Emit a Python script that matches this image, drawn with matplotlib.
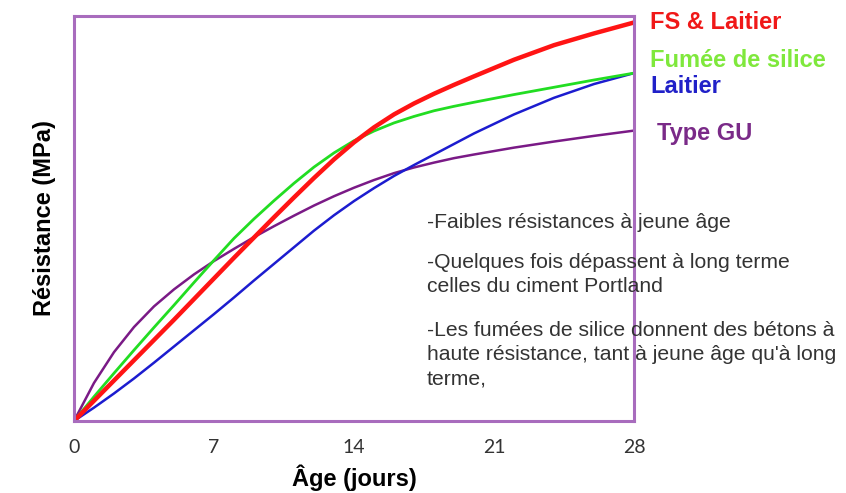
import matplotlib
matplotlib.use("Agg")
import matplotlib.pyplot as plt

days = [0, 1, 2, 3, 4, 5, 6, 7, 8, 9, 10, 11, 12, 13, 14, 15, 16, 17, 18,
        19, 20, 22, 24, 26, 28]

# relative strength (arbitrary units, 0-100)
fs_laitier = [0, 5.0, 10.0, 15.0, 20.0, 25.0, 30.1, 35.2, 40.3, 45.3, 50.3,
              55.2, 60.0, 64.6, 68.8, 72.5, 75.7, 78.4, 80.8, 83.0, 85.1,
              89.2, 92.8, 95.7, 98.4]
fumee = [0, 6.0, 11.8, 17.5, 23.1, 28.6, 34.2, 39.7, 45.1, 49.9, 54.4,
         58.7, 62.7, 66.2, 69.2, 71.6, 73.6, 75.2, 76.6, 77.7, 78.7,
         80.6, 82.4, 84.2, 85.9]
laitier = [0, 3.3, 6.8, 10.5, 14.4, 18.4, 22.4, 26.4, 30.5, 34.7, 38.8,
           42.9, 47.0, 50.8, 54.3, 57.5, 60.5, 63.2, 65.8, 68.4, 71.0,
           75.7, 79.8, 83.2, 85.9]
type_gu = [0, 9.4, 17.0, 23.2, 28.3, 32.5, 36.2, 39.5, 42.5, 45.4, 48.1,
           50.7, 53.2, 55.5, 57.6, 59.5, 61.2, 62.6, 63.8, 64.9, 65.8,
           67.5, 69.0, 70.4, 71.7]

xticks = [0, 7, 14, 21, 28]

notes = [
    "-Faibles résistances à jeune âge",
    "-Quelques fois dépassent à long terme",
    "celles du ciment Portland",
    "-Les fumées de silice donnent des bétons à",
    "haute résistance, tant à jeune âge qu'à long",
    "terme,",
]
note_rows = [222, 262, 286, 331, 355, 380]  # pixel rows of note lines

W, H = 846, 493
fig = plt.figure(figsize=(W / 100, H / 100), dpi=100)
ax = fig.add_axes([74 / W, 1 - 421 / H, (634 - 74) / W, (421 - 16) / H])

ax.plot(days, type_gu, color="#7a1a86", lw=1.8, zorder=3)
ax.plot(days, laitier, color="#1c1ccf", lw=1.8, zorder=3)
ax.plot(days, fumee, color="#22dd22", lw=2.0, zorder=4)
ax.plot(days, fs_laitier, color="#ff1414", lw=3.2, zorder=5)

ax.set_xlim(0, 28)
ax.set_ylim(0, 100)
ax.set_xticks(xticks)
ax.set_xticklabels([str(t) for t in xticks], fontsize=14, color="#333333",
                   family="Lato")
ax.tick_params(axis="x", length=0, pad=13)
ax.set_yticks([])

for s in ax.spines.values():
    s.set_color("#a86cbd")
    s.set_linewidth(2.2)
    s.set_zorder(6)

ax.set_xlabel("Âge (jours)", fontsize=17, fontweight="bold",
              family="Liberation Sans", labelpad=6)
ax.set_ylabel("Résistance (MPa)", fontsize=17, fontweight="bold",
              family="Liberation Sans", labelpad=13)

# series labels beside the line ends
lab = dict(fontsize=17, fontweight="bold", family="Liberation Sans",
           va="center", ha="left", clip_on=False)
ax.text(28.8, 98.5, "FS & Laitier", color="#f01818", **lab)
ax.text(28.8, 89.1, "Fumée de silice", color="#7fe83c", **lab)
ax.text(28.8, 82.5, "Laitier", color="#2020c8", **lab)
ax.text(29.15, 71.1, "Type GU", color="#7a2a88", **lab)

for txt, row in zip(notes, note_rows):
    fig.text(427 / W, 1 - row / H, txt, fontsize=15.2, color="#333333",
             family="Liberation Sans", va="center", ha="left", zorder=1)

fig.savefig("out.png", dpi=100)
